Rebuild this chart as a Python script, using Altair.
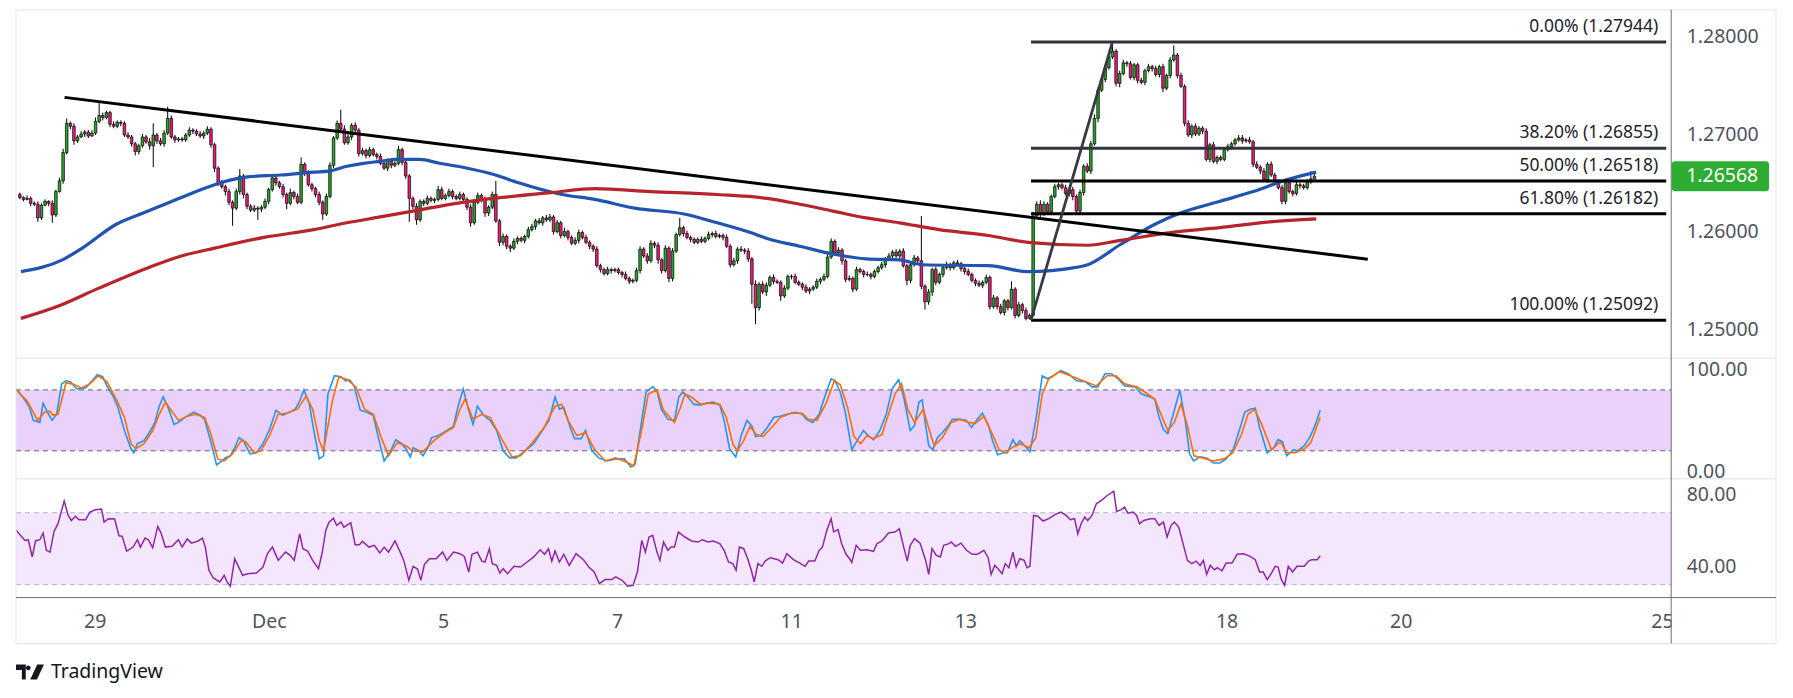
import altair as alt
import pandas as pd

# ---------------- DATA ----------------
# hourly candles, t = trading hours since Nov 28 02:00 (weekends skipped)
FIRST_OPEN = 1.2638
close_nov28 = [1.2635,1.2633,1.2634,1.2629,1.2628,1.2614,1.2627,1.2631,1.2629,1.2617,1.2641,1.2652,1.2681,1.2711,1.2708,1.2693,1.2697,1.2700,1.2702,1.2698,1.2701,1.2713]
close_nov29 = [1.2719,1.2717,1.2722,1.2710,1.2708,1.2712,1.2711,1.2699,1.2697,1.2690,1.2682,1.2688,1.2697,1.2692,1.2688,1.2699,1.2693,1.2690,1.2701,1.2716,1.2697,1.2694,1.2695,1.2694]
close_nov30 = [1.2699,1.2704,1.2703,1.2700,1.2698,1.2701,1.2705,1.2689,1.2665,1.2650,1.2646,1.2641,1.2630,1.2624,1.2641,1.2657,1.2638,1.2626,1.2622,1.2624,1.2623,1.2625,1.2631,1.2643]
close_dec01 = [1.2655,1.2650,1.2646,1.2638,1.2629,1.2640,1.2636,1.2630,1.2669,1.2660,1.2648,1.2644,1.2638,1.2630,1.2618,1.2636,1.2668,1.2696,1.2711,1.2705,1.2691,1.2697,1.2709,1.2704]
close_dec04 = [1.2680,1.2683,1.2678,1.2684,1.2679,1.2677,1.2670,1.2665,1.2672,1.2668,1.2670,1.2684,1.2671,1.2657,1.2634,1.2626,1.2612,1.2631,1.2629,1.2634,1.2632,1.2633,1.2643,1.2634]
close_dec05 = [1.2637,1.2641,1.2636,1.2634,1.2638,1.2633,1.2625,1.2609,1.2630,1.2637,1.2633,1.2619,1.2625,1.2638,1.2611,1.2589,1.2595,1.2585,1.2583,1.2590,1.2593,1.2591,1.2595,1.2602]
close_dec06 = [1.2605,1.2611,1.2609,1.2614,1.2612,1.2615,1.2600,1.2609,1.2596,1.2600,1.2594,1.2588,1.2591,1.2599,1.2594,1.2589,1.2585,1.2582,1.2565,1.2561,1.2557,1.2561,1.2560,1.2561]
close_dec07 = [1.2558,1.2556,1.2552,1.2549,1.2550,1.2560,1.2582,1.2575,1.2570,1.2588,1.2586,1.2571,1.2560,1.2583,1.2552,1.2580,1.2597,1.2604,1.2598,1.2594,1.2592,1.2589,1.2592,1.2590]
close_dec08 = [1.2593,1.2597,1.2598,1.2595,1.2596,1.2594,1.2585,1.2566,1.2570,1.2582,1.2581,1.2580,1.2572,1.2546,1.2522,1.2546,1.2538,1.2545,1.2553,1.2549,1.2548,1.2534,1.2542,1.2554]
close_dec11 = [1.2554,1.2548,1.2546,1.2543,1.2539,1.2541,1.2543,1.2549,1.2551,1.2554,1.2574,1.2590,1.2578,1.2581,1.2570,1.2551,1.2552,1.2541,1.2561,1.2559,1.2556,1.2556,1.2554,1.2559]
close_dec12 = [1.2563,1.2566,1.2572,1.2575,1.2579,1.2575,1.2580,1.2565,1.2550,1.2566,1.2573,1.2570,1.2544,1.2528,1.2538,1.2561,1.2548,1.2556,1.2563,1.2566,1.2563,1.2568,1.2567,1.2562]
close_dec13 = [1.2559,1.2556,1.2550,1.2547,1.2545,1.2548,1.2553,1.2523,1.2532,1.2523,1.2517,1.2529,1.2522,1.2541,1.2514,1.2525,1.2519,1.2511,1.2514,1.2616,1.2628,1.2618,1.2628,1.2620]
close_dec14 = [1.2636,1.2646,1.2648,1.2645,1.2639,1.2643,1.2636,1.2621,1.2640,1.2667,1.2662,1.2690,1.2716,1.2745,1.2756,1.2768,1.2779,1.2785,1.2752,1.2762,1.2773,1.2772,1.2758,1.2771]
close_dec15 = [1.2755,1.2753,1.2765,1.2769,1.2767,1.2761,1.2769,1.2747,1.2760,1.2776,1.2781,1.2760,1.2749,1.2711,1.2699,1.2708,1.2700,1.2706,1.2703,1.2674,1.2689,1.2672,1.2676,1.2674]
close_dec18 = [1.2684,1.2687,1.2690,1.2694,1.2696,1.2693,1.2694,1.2692,1.2669,1.2666,1.2662,1.2653,1.2669,1.2658,1.2652,1.2645,1.2631,1.2650,1.2641,1.2639,1.2648,1.2647,1.2645,1.2651]
close_dec19 = [1.2654,1.26568]

# wick lengths in pips beyond the candle body
up_nov28 = [2,1,3,2,2,3,2,2,1,3,2,3,4,5,2,3,2,3,2,2,3,4]
dn_nov28 = [2,2,1,3,2,4,2,1,3,8,2,1,3,2,3,4,2,1,3,2,1,2]
up_nov29 = [13,3,2,2,3,2,2,2,3,2,2,2,3,2,4,12,2,3,3,12,3,2,2,2]
dn_nov29 = [2,3,2,3,2,2,3,2,2,3,4,3,2,2,4,22,3,2,3,2,2,3,2,2]
up_nov30 = [2,3,2,2,3,2,3,2,2,2,3,2,3,2,3,7,2,2,2,3,2,2,3,2]
dn_nov30 = [2,2,3,2,2,3,2,3,4,3,2,4,3,18,2,3,4,3,2,2,11,3,2,3]
up_dec01 = [3,2,2,3,2,4,2,3,7,2,3,2,2,3,2,3,3,2,3,14,4,3,2,3]
dn_dec01 = [2,3,2,3,6,2,3,2,2,3,2,3,3,3,6,2,2,3,2,3,2,2,3,2]
up_dec04 = [2,3,2,3,2,2,3,2,3,2,2,4,2,3,2,2,3,2,2,3,2,2,4,3]
dn_dec04 = [3,2,3,2,2,3,2,2,3,3,2,2,3,3,24,3,5,2,3,2,2,3,2,2]
up_dec05 = [2,3,2,2,3,2,2,3,2,3,2,3,2,3,14,2,3,2,2,3,2,2,2,3]
dn_dec05 = [2,2,3,2,2,3,3,4,2,2,3,4,3,2,2,4,3,3,4,2,3,2,3,2]
up_dec06 = [3,2,3,2,3,3,2,3,2,4,2,2,3,3,2,3,2,2,3,2,2,3,2,2]
dn_dec06 = [2,3,2,3,2,2,3,2,3,2,3,2,2,3,2,2,3,3,2,3,2,2,3,2]
up_dec07 = [2,2,3,2,2,3,3,2,3,3,2,3,2,3,2,3,2,10,2,3,2,2,2,3]
dn_dec07 = [2,3,2,3,2,2,3,2,3,2,3,4,3,2,4,3,2,2,3,2,3,2,2,2]
up_dec08 = [2,3,2,3,2,2,3,2,3,2,3,2,3,2,4,2,3,3,2,3,2,2,3,2]
dn_dec08 = [2,2,3,2,2,3,2,3,2,3,2,3,3,20,17,3,2,4,2,3,2,5,2,2]
up_dec11 = [2,3,2,2,3,2,2,3,2,3,3,3,2,3,2,2,3,2,3,2,2,3,2,2]
dn_dec11 = [3,2,2,3,2,3,2,2,3,2,2,2,3,2,4,3,2,3,2,2,3,2,3,2]
up_dec12 = [2,3,2,3,2,3,2,3,2,2,3,2,46,2,3,2,3,2,2,3,2,2,3,2]
dn_dec12 = [2,2,3,2,3,2,3,2,5,3,2,3,3,8,3,4,3,2,3,2,3,2,2,3]
up_dec13 = [2,3,2,2,3,2,3,2,3,2,3,2,2,8,2,3,2,3,2,4,3,4,3,2]
dn_dec13 = [3,2,2,3,2,3,2,3,2,3,2,3,3,2,3,2,3,2,1,1,2,3,2,3]
up_dec14 = [2,3,2,2,3,2,3,2,3,2,3,3,4,3,3,3,3,9,2,3,3,2,3,2]
dn_dec14 = [2,2,3,2,2,3,4,3,2,3,2,3,2,4,2,3,2,2,3,4,2,3,2,3]
up_dec15 = [2,3,2,3,2,3,2,3,2,3,10,2,3,2,3,2,3,2,2,3,2,3,2,2]
dn_dec15 = [3,2,3,2,3,2,3,4,2,3,2,3,2,3,2,3,2,2,3,2,3,2,3,2]
up_dec18 = [2,3,2,2,3,3,2,3,2,3,2,3,2,3,2,2,3,2,3,2,3,2,2,3]
dn_dec18 = [2,2,3,2,2,3,2,2,3,2,3,2,3,2,3,2,3,3,2,3,2,3,2,2]
up_dec19 = [8,2]
dn_dec19 = [2,2]

# moving averages (t, price)
ma100_blue = [(0.3,1.2559),(11.8,1.2571),(17.3,1.2583),(26.5,1.2607),(35.6,1.2621),(44.8,1.2635),(54.0,1.2648),(58.6,1.2653),(63.2,1.2656),(72.3,1.2658),(81.5,1.2661),(85.6,1.2662),(90.7,1.2667),(95.3,1.2670),(99.9,1.2672),(104.4,1.2674),(110.9,1.2674),(116.4,1.2670),(122.8,1.2666),(131.9,1.2658),(138.3,1.2650),(150.3,1.2638),(159.4,1.2633),(170.5,1.2624),(184.2,1.2618),(193.4,1.2609),(202.6,1.2599),(207.2,1.2593),(216.3,1.2585),(225.5,1.2577),(234.7,1.2572),(243.9,1.2571),(250.3,1.2566),(268.6,1.2565),(279.6,1.2559),(292.5,1.2563),(296.1,1.2566),(305.3,1.2587),(314.5,1.2607),(321.8,1.2619),(332.8,1.2631),(342.0,1.2641),(351.2,1.2653),(359.5,1.2661)]
ma200_red = [(0.3,1.2511),(10.9,1.2524),(21.9,1.2542),(35.6,1.2563),(44.8,1.2575),(54.0,1.2583),(67.7,1.2594),(81.5,1.2602),(90.7,1.2609),(99.9,1.2615),(109.0,1.2621),(122.8,1.2630),(133.8,1.2635),(147.5,1.2640),(159.4,1.2644),(175.0,1.2641),(193.4,1.2638),(207.2,1.2634),(216.3,1.2628),(225.5,1.2621),(234.7,1.2614),(243.9,1.2609),(254.9,1.2602),(268.6,1.2596),(279.6,1.2589),(296.1,1.2586),(305.3,1.2591),(319.1,1.2599),(332.8,1.2604),(346.6,1.2610),(359.5,1.2613)]

# drawings
trend_t = [12.4, 373.8]
trend_p = [1.27376, 1.25717]
fib_pct = ["0.00%", "38.20%", "50.00%", "61.80%", "100.00%"]
fib_price = [1.27944, 1.26855, 1.26518, 1.26182, 1.25092]
fib_start_t = 280.4
fib_top_t = 303.0

# stochastic %K, %D (t, value)
stoch_k = [(0.4,81),(2.2,73),(4.0,63),(5.1,50),(6.9,48),(7.8,67),(9.3,56),(10.3,50),(11.5,56),(12.9,86),(14.1,89),(15.3,88),(17.1,81),(19.5,82),(21.3,89),(22.7,95),(24.2,93),(25.4,84),(27.2,73),(28.4,63),(30.2,40),(32.0,22),(32.8,18),(33.8,27),(35.6,30),(37.4,40),(38.6,48),(39.8,64),(40.9,73),(42.1,64),(43.9,46),(45.1,48),(46.9,53),(49.3,58),(51.1,55),(52.3,51),(54.1,28),(55.6,6),(57.1,10),(58.0,13),(59.4,15),(60.6,23),(61.8,33),(63.0,30),(64.8,17),(66.6,18),(68.4,27),(70.2,41),(72.0,60),(73.8,55),(75.6,58),(77.3,61),(78.5,69),(79.7,80),(81.2,66),(82.4,40),(83.9,12),(85.1,15),(86.3,76),(88.1,94),(89.9,93),(91.1,89),(92.3,90),(93.5,84),(95.2,60),(97.0,58),(98.8,55),(100.0,36),(101.8,10),(103.6,20),(105.0,31),(106.6,27),(107.8,22),(109.0,14),(109.8,23),(111.4,20),(112.5,15),(113.7,22),(114.9,33),(116.7,35),(119.1,40),(120.9,44),(122.1,63),(123.6,81),(125.1,60),(126.3,46),(127.5,64),(129.2,55),(131.0,50),(132.8,40),(134.6,20),(136.4,13),(138.2,13),(140.6,20),(143.0,27),(145.4,40),(147.2,50),(148.9,73),(150.1,61),(151.3,63),(153.1,43),(154.3,32),(156.1,32),(157.3,40),(159.1,20),(160.9,13),(163.3,10),(165.6,12),(168.0,12),(169.8,4),(171.0,7),(172.2,36),(174.0,78),(175.8,83),(177.0,79),(178.2,61),(180.0,51),(181.8,50),(183.0,73),(184.1,78),(185.3,74),(187.1,66),(188.9,65),(190.7,67),(192.5,68),(194.3,65),(195.5,50),(197.0,22),(198.7,14),(200.3,36),(201.8,50),(203.2,44),(204.2,34),(205.6,35),(207.4,43),(209.2,53),(211.0,54),(212.8,56),(215.2,58),(217.0,56),(218.2,51),(219.9,48),(221.7,56),(223.3,74),(225.0,91),(226.1,89),(227.5,78),(228.9,58),(230.7,21),(232.5,32),(233.9,40),(235.2,35),(236.7,31),(238.4,40),(240.2,56),(241.8,81),(243.6,90),(245.0,73),(246.8,40),(248.0,45),(249.2,68),(250.1,70),(251.0,46),(251.9,25),(253.0,21),(254.3,33),(255.7,38),(257.5,46),(258.4,51),(260.5,51),(262.3,50),(263.7,43),(265.3,51),(266.7,57),(268.3,46),(269.5,30),(270.9,16),(272.5,18),(273.6,18),(275.1,31),(276.0,25),(277.0,30),(278.4,25),(279.8,19),(281.4,50),(283.2,94),(284.6,91),(286.2,94),(288.3,99),(290.3,96),(292.7,89),(295.1,88),(296.9,83),(298.5,83),(300.5,96),(302.3,96),(304.1,91),(305.9,84),(308.8,83),(310.6,76),(313.0,73),(314.2,71),(315.4,53),(316.6,41),(317.8,37),(319.6,60),(321.1,80),(322.6,50),(323.8,17),(324.9,10),(326.7,14),(328.5,13),(330.4,8),(332.1,8),(333.9,12),(335.7,20),(337.5,40),(339.0,58),(340.5,61),(341.9,62),(343.1,43),(345.2,18),(347.0,23),(348.2,31),(349.4,29),(350.6,15),(352.4,21),(353.6,20),(355.4,25),(356.9,33),(358.4,45),(359.8,60)]
stoch_d = [(0.4,80),(3.4,69),(6.3,50),(8.1,58),(9.6,59),(10.5,55),(11.9,56),(14.1,87),(15.9,86),(18.3,82),(20.7,86),(23.0,94),(25.4,88),(28.2,69),(30.2,53),(32.0,27),(33.4,22),(35.6,27),(38.0,40),(39.8,56),(41.5,68),(43.1,60),(45.1,50),(47.5,54),(49.9,56),(52.3,53),(54.1,36),(55.9,12),(57.7,10),(60.0,17),(62.4,30),(63.6,29),(66.0,18),(67.8,20),(70.2,35),(72.6,56),(74.9,57),(77.9,61),(80.3,74),(82.1,61),(83.9,30),(85.1,20),(87.5,69),(89.3,93),(91.7,90),(94.0,83),(96.4,61),(98.8,56),(101.0,33),(103.0,15),(105.4,28),(107.8,25),(109.6,20),(112.5,19),(115.5,30),(118.5,38),(120.9,43),(122.7,61),(124.1,71),(126.3,51),(128.6,56),(131.0,53),(134.0,33),(137.0,14),(139.4,15),(142.4,27),(145.9,43),(148.9,64),(150.7,66),(152.5,50),(154.9,35),(157.3,38),(159.7,22),(162.7,10),(165.6,13),(168.6,9),(170.6,5),(172.8,41),(174.6,76),(177.0,80),(178.8,60),(181.8,48),(183.5,63),(184.7,76),(186.5,73),(188.9,66),(191.3,67),(194.3,66),(196.1,53),(197.9,27),(199.1,20),(200.9,30),(202.6,44),(204.4,36),(206.2,34),(208.6,43),(211.0,53),(214.0,57),(217.0,57),(218.7,51),(221.1,50),(223.5,66),(225.9,89),(227.5,85),(229.5,63),(231.3,34),(233.1,27),(234.9,35),(236.6,32),(239.0,36),(240.8,56),(242.6,76),(244.4,86),(246.2,60),(248.0,48),(250.4,61),(251.6,46),(253.4,25),(255.7,33),(258.1,48),(260.5,51),(262.9,48),(264.7,47),(267.1,54),(269.5,36),(271.3,21),(273.1,18),(274.8,23),(277.2,27),(279.6,23),(281.4,33),(283.2,76),(285.0,91),(288.0,98),(290.9,94),(294.5,89),(298.1,84),(301.1,94),(303.5,94),(305.9,86),(309.4,83),(311.8,77),(314.2,71),(316.6,50),(317.8,40),(319.6,48),(321.4,66),(323.2,45),(325.0,15),(327.3,13),(330.3,10),(333.3,12),(335.7,18),(338.1,36),(339.9,56),(341.7,61),(343.8,45),(346.4,21),(348.8,29),(350.6,18),(353.0,18),(355.4,22),(357.2,28),(359.8,53)]

# RSI (t, value)
rsi_14 = [(0.4,60.2),(1.6,57.4),(2.8,54.6),(3.7,55),(4.8,45.4),(5.7,54.3),(6.9,55),(7.8,58.7),(8.7,49.1),(9.7,48.1),(10.8,59.6),(11.9,63.9),(12.9,71.3),(13.6,76.5),(14.7,68.5),(15.6,65.7),(16.7,68),(17.7,66.1),(19.5,66.1),(20.7,70.4),(22.2,71.7),(23.9,72),(24.6,64.8),(25.8,66.7),(27.5,66.5),(28.7,57.2),(29.6,56.9),(30.8,48.7),(32.6,50.9),(33.8,55),(34.6,50.9),(35.9,55.9),(36.8,55),(38.0,50.6),(39.4,62.4),(40.3,58.7),(41.5,50.9),(43.3,51.3),(45.1,55),(46.1,50.9),(47.5,55.4),(48.7,53.1),(50.5,54.3),(51.7,55.9),(52.5,50.9),(53.5,38),(54.7,33.7),(56.5,31.5),(57.7,35.2),(58.5,31.5),(59.4,29.1),(60.6,44.4),(61.6,40.2),(62.8,35.2),(64.2,36.1),(66.6,36.5),(68.4,39.8),(69.6,47.2),(71.0,50.9),(72.6,43.5),(74.6,48.1),(75.9,46.3),(77.0,43.5),(78.5,58.3),(79.4,50),(80.7,48.7),(82.1,43.5),(83.7,38.9),(84.7,47.6),(85.7,60.2),(86.6,64.8),(87.8,67),(88.7,63),(89.9,64.8),(90.7,62),(92.6,64.4),(93.8,52.2),(95.0,52.2),(95.8,54.1),(97.6,50.9),(99.1,51.9),(100.6,47.6),(101.8,50.9),(103.0,48.1),(104.8,54.3),(106.0,49.1),(107.2,43.5),(108.6,32.4),(109.8,40.2),(111.0,38.7),(111.9,32.4),(112.9,41.3),(114.3,44.4),(116.1,44.4),(117.9,48.1),(119.1,43.5),(120.9,48.1),(122.7,47.2),(123.9,45.7),(125.1,37),(126.0,46.9),(127.5,48.1),(128.7,43.1),(129.6,42.6),(130.8,50),(131.6,41.7),(132.8,40.7),(133.7,36.5),(134.6,38.9),(135.8,36.1),(137.6,40.2),(139.4,39.8),(141.2,42.6),(143.0,45.4),(144.8,49.4),(146.0,46.9),(147.1,50),(148.0,43.1),(148.9,48.7),(150.1,42.6),(151.3,46.9),(152.8,40.7),(154.7,47.2),(156.7,43.9),(158.2,39.8),(159.7,37),(161.1,30.6),(162.7,32.8),(164.5,32.8),(165.6,34.3),(167.4,32.4),(168.9,29.1),(170.4,29.6),(171.6,37),(172.8,54.6),(173.8,48.1),(174.8,56.5),(175.8,57.4),(177.0,48.1),(177.8,43.5),(178.8,53.7),(180.0,49.1),(180.9,50.9),(181.8,50.9),(182.9,59.3),(184.7,56.5),(186.5,54.3),(188.3,53.7),(189.5,55),(191.1,53.7),(192.5,54.3),(194.3,52.8),(195.5,49.1),(196.7,42.6),(197.9,41.7),(198.8,38),(199.7,50.9),(200.9,50),(202.0,44.4),(203.0,38),(203.8,31.5),(204.8,41.7),(205.9,40.2),(206.8,43.1),(208.2,45),(210.4,43.9),(211.6,42),(212.8,47.2),(214.6,43.9),(216.4,42),(217.8,40.2),(218.8,43.1),(220.5,43.1),(221.7,49.1),(222.6,50.9),(223.8,60.2),(225.0,66.7),(225.7,59.3),(226.9,60.6),(227.9,52.8),(229.1,46.9),(230.1,44.4),(230.7,42.4),(231.9,51.9),(233.1,49.1),(234.9,49.4),(236.7,48.5),(237.6,52.8),(239.0,54.3),(240.8,58.7),(242.6,59.3),(243.8,61.1),(245.0,50.9),(246.0,43.1),(246.8,51.9),(248.0,55.6),(249.5,53.1),(251.0,43.9),(251.9,35.7),(252.8,50),(254.0,46.3),(255.1,45.4),(256.0,51.9),(257.5,52.8),(258.1,53.7),(259.3,51.3),(260.8,53.1),(262.3,49.1),(263.9,46.9),(265.3,46.9),(267.1,49.1),(268.3,45),(269.1,35.7),(270.1,40.7),(271.0,38.9),(272.1,36.1),(273.0,41.7),(274.0,39.4),(275.1,48.1),(276.0,39.8),(277.0,44.4),(278.2,43.5),(279.0,39.4),(279.8,40.2),(280.8,68.5),(282.0,68.1),(283.4,65.4),(285.0,66.7),(286.8,69.1),(288.3,70.4),(289.8,68.5),(290.9,66.1),(292.1,66.7),(293.0,58.3),(293.9,63.9),(294.9,67.6),(295.7,65.7),(296.9,68.5),(298.1,75),(299.7,77.2),(301.1,79.6),(302.9,82),(303.7,70.7),(304.9,71.7),(305.9,73.1),(306.8,69.8),(308.2,70.4),(309.2,68.5),(310.0,63.9),(311.2,65.7),(313.0,66.7),(314.2,66.7),(315.4,63),(316.6,64.8),(317.6,56.5),(318.7,63),(319.6,64.8),(320.8,62),(322.0,52.8),(323.2,43.5),(324.4,41.7),(325.6,43.1),(326.7,40.7),(327.6,43.5),(328.5,35.7),(329.5,40.7),(330.7,38.3),(331.5,39.4),(332.7,37.6),(333.9,42),(335.5,42),(336.9,46.9),(338.7,47.2),(340.5,45.7),(341.9,43.9),(343.1,37),(344.1,37),(345.2,32.8),(346.4,36.5),(347.4,40.2),(348.2,39.8),(349.1,32.8),(350.0,29.6),(351.0,40.2),(352.2,37),(353.4,40.2),(355.4,40.2),(356.6,43.1),(357.5,43.9),(359.0,43.9),(359.8,46.1)]

# time axis
tick_t = [22, 70, 118, 166, 214, 262, 334, 382, 454]
tick_lab = ["29", "Dec", "5", "7", "11", "13", "18", "20", "25"]

# ---------------- STYLE / LAYOUT ----------------
W = 1658
H_PRICE, H_STOCH, H_RSI = 349, 121, 119
X_DOM = [0.316, 456.55]
FONT = "Noto Sans"
AX_COL = "#50535e"
GREEN, PINK = "#2ba42b", "#ef1a7c"
LIGHT = "#e0e3eb"
DARK = "#6a6d78"

closes = (close_nov28 + close_nov29 + close_nov30 + close_dec01 + close_dec04 + close_dec05 +
          close_dec06 + close_dec07 + close_dec08 + close_dec11 + close_dec12 + close_dec13 +
          close_dec14 + close_dec15 + close_dec18 + close_dec19)
wick_up = (up_nov28 + up_nov29 + up_nov30 + up_dec01 + up_dec04 + up_dec05 + up_dec06 + up_dec07 +
           up_dec08 + up_dec11 + up_dec12 + up_dec13 + up_dec14 + up_dec15 + up_dec18 + up_dec19)
wick_dn = (dn_nov28 + dn_nov29 + dn_nov30 + dn_dec01 + dn_dec04 + dn_dec05 + dn_dec06 + dn_dec07 +
           dn_dec08 + dn_dec11 + dn_dec12 + dn_dec13 + dn_dec14 + dn_dec15 + dn_dec18 + dn_dec19)

opens = [FIRST_OPEN] + closes[:-1]
rows = []
for i, (o, c) in enumerate(zip(opens, closes)):
    u = wick_up[i] if i < len(wick_up) else 2
    d = wick_dn[i] if i < len(wick_dn) else 2
    rows.append({"t": i, "open": o, "close": c,
                 "high": max(o, c) + u / 10000.0, "low": min(o, c) - d / 10000.0})
cdf = pd.DataFrame(rows)

xs = alt.Scale(domain=X_DOM, nice=False, zero=False)
ps = alt.Scale(domain=[1.24704, 1.28276], nice=False, zero=False)
ss = alt.Scale(domain=[-7.6, 111.5], nice=False, zero=False)
rs = alt.Scale(domain=[22.8, 88.9], nice=False, zero=False)


def yaxis(vals, fmt):
    return alt.Axis(orient="right", values=vals, format=fmt, domain=False, ticks=False, tickSize=0,
                    grid=False, labelPadding=15, labelFontSize=19.5, labelColor=AX_COL, labelFont=FONT,
                    title=None)


P_AX = yaxis([1.25, 1.26, 1.27, 1.28], ".5f")
S_AX = yaxis([0, 100], ".2f")
R_AX = yaxis([40, 80], ".2f")

expr = "''"
for tv, lab in reversed(list(zip(tick_t, tick_lab))):
    expr = f"datum.value == {tv} ? '{lab}' : ({expr})"
X_AX = alt.Axis(values=tick_t, labelExpr=expr, domain=False, ticks=False, tickSize=0, grid=False,
                labelPadding=24, labelBaseline="middle", labelFontSize=19.5, labelColor=AX_COL,
                labelFont=FONT, labelFlush=False, labelOverlap=False, title=None)


def pairs_df(p):
    return pd.DataFrame({"t": [a for a, b in p], "v": [b for a, b in p]})


def PX(field="t"):
    return alt.X(f"{field}:Q", scale=xs, axis=None)


def PY(field):
    return alt.Y(f"{field}:Q", scale=ps, axis=P_AX)


# ---- price panel ----
wicks = alt.Chart(cdf).mark_rule(color="#000000", strokeWidth=1).encode(
    x=PX(), y=PY("low"), y2="high:Q")
bodies = alt.Chart(cdf).mark_bar(size=2.6, stroke="#000000", strokeWidth=0.7).encode(
    x=PX(), y=PY("open"), y2="close:Q",
    color=alt.condition("datum.close >= datum.open", alt.value(GREEN), alt.value(PINK)))
blue = alt.Chart(pairs_df(ma100_blue)).mark_line(color="#1f54b0", strokeWidth=3.2, interpolate="monotone", clip=True).encode(
    x=PX(), y=PY("v"))
red = alt.Chart(pairs_df(ma200_red)).mark_line(color="#b5252b", strokeWidth=3.2, interpolate="monotone", clip=True).encode(
    x=PX(), y=PY("v"))
trend = alt.Chart(pd.DataFrame({"t": trend_t, "v": trend_p})).mark_line(color="#000000", strokeWidth=3, clip=True).encode(
    x=PX(), y=PY("v"))

fdf = pd.DataFrame({"x1": [fib_start_t] * len(fib_price), "x2": [X_DOM[1]] * len(fib_price),
                    "p": fib_price, "idx": list(range(len(fib_price))),
                    "label": [f"{a} ({b:.5f})" for a, b in zip(fib_pct, fib_price)]})
fib_lines = alt.Chart(fdf).mark_rule(strokeWidth=3).encode(
    x=PX("x1"), x2="x2:Q", y=PY("p"),
    color=alt.condition("datum.idx < 2", alt.value("#2f333e"), alt.value("#000000")))
fib_diag = alt.Chart(pd.DataFrame({"t": [fib_start_t, fib_top_t], "v": [fib_price[-1], fib_price[0]]})).mark_line(
    color="#363a45", strokeWidth=2.8).encode(x=PX(), y=PY("v"))
fib_text = alt.Chart(fdf).mark_text(align="right", baseline="middle", dy=-15, fontSize=17.5, font=FONT,
                                    color="#1e222d").encode(
    x=alt.value(W - 13), y=PY("p"), text="label:N")

last = closes[-1]
tag_df = pd.DataFrame({"p": [last], "hi": [last + 0.00154], "lo": [last - 0.00154], "txt": [f"{last:.5f}"]})
tag_rect = alt.Chart(tag_df).mark_rect(color="#2fad33", cornerRadius=3, clip=False).encode(
    x=alt.value(W + 0.5), x2=alt.value(W + 98), y=PY("hi"), y2="lo:Q")
tag_text = alt.Chart(tag_df).mark_text(align="left", baseline="middle", color="white", fontSize=19.5,
                                       font=FONT).encode(
    x=alt.value(W + 15), y=PY("p"), text="txt:N")

price = alt.layer(wicks, bodies, blue, red, trend, fib_lines, fib_diag, fib_text, tag_rect, tag_text).properties(
    width=W, height=H_PRICE)

# ---- stochastic panel ----
sband = alt.Chart(pd.DataFrame({"x1": [X_DOM[0]], "x2": [X_DOM[1]], "hi": [80], "lo": [20]})).mark_rect(
    color="#ead1fc").encode(x=PX("x1"), x2="x2:Q",
                            y=alt.Y("hi:Q", scale=ss, axis=S_AX), y2="lo:Q")
slines = alt.Chart(pd.DataFrame({"x1": [X_DOM[0]] * 2, "x2": [X_DOM[1]] * 2, "v": [80, 20]})).mark_rule(
    color="#5d606b", strokeDash=[5, 4], strokeWidth=1).encode(
    x=PX("x1"), x2="x2:Q", y=alt.Y("v:Q", scale=ss, axis=S_AX))
kline = alt.Chart(pairs_df(stoch_k)).mark_line(color="#2196f3", strokeWidth=1.6, clip=True).encode(
    x=PX(), y=alt.Y("v:Q", scale=ss, axis=S_AX))
dline = alt.Chart(pairs_df(stoch_d)).mark_line(color="#ff6d00", strokeWidth=1.6, clip=True).encode(
    x=PX(), y=alt.Y("v:Q", scale=ss, axis=S_AX))
stoch = alt.layer(sband, slines, kline, dline).properties(width=W, height=H_STOCH)

# ---- RSI panel ----
RX = lambda f="t": alt.X(f"{f}:Q", scale=xs, axis=X_AX)
rband = alt.Chart(pd.DataFrame({"x1": [X_DOM[0]], "x2": [X_DOM[1]], "hi": [70], "lo": [30]})).mark_rect(
    color="#f3e6fd").encode(x=RX("x1"), x2="x2:Q",
                            y=alt.Y("hi:Q", scale=rs, axis=R_AX), y2="lo:Q")
rlines = alt.Chart(pd.DataFrame({"x1": [X_DOM[0]] * 2, "x2": [X_DOM[1]] * 2, "v": [70, 30]})).mark_rule(
    color="#b2b5be", strokeDash=[5, 4], strokeWidth=1).encode(
    x=RX("x1"), x2="x2:Q", y=alt.Y("v:Q", scale=rs, axis=R_AX))
rline = alt.Chart(pairs_df(rsi_14)).mark_line(color="#9027a8", strokeWidth=1.5, clip=True).encode(
    x=RX(), y=alt.Y("v:Q", scale=rs, axis=R_AX))

dummy = pd.DataFrame({"d": [0]})


def hline(x1, x2, y, color):
    return alt.Chart(dummy).mark_rule(color=color, strokeWidth=1, clip=False).encode(
        x=alt.value(x1), x2=alt.value(x2), y=alt.value(y))


def vline(x, y1, y2, color):
    return alt.Chart(dummy).mark_rule(color=color, strokeWidth=1, clip=False).encode(
        x=alt.value(x), y=alt.value(y1), y2=alt.value(y2))


TOP = -(H_PRICE + H_STOCH)
RIGHT = 1763
BOTTOM = 165
cover = alt.Chart(dummy).mark_rect(color="white", clip=False).encode(
    x=alt.value(W + 0.5), x2=alt.value(W + 40), y=alt.value(H_RSI + 1), y2=alt.value(BOTTOM - 1))
TV_PATH = ("M-1,-0.54H-0.3V0.54H-0.58V-0.14H-1Z "
           "M-0.29,-0.3A0.17,0.17 0 1,0 0.05,-0.3A0.17,0.17 0 1,0 -0.29,-0.3Z "
           "M0.52,-0.54H1L0.5,0.54H0.02Z")
logo_icon = alt.Chart(dummy).mark_point(shape=TV_PATH, filled=True, color="#131722", size=784,
                                        opacity=1, strokeWidth=0, clip=False).encode(
    x=alt.value(14), y=alt.value(193.5))
logo_text = alt.Chart(dummy).mark_text(align="left", baseline="middle", fontSize=19.5, font=FONT,
                                       color="#131722", clip=False).encode(
    x=alt.value(35), y=alt.value(194), text=alt.value("TradingView"))

deco = [
    cover,
    hline(0, RIGHT, TOP + 0.5, LIGHT),
    hline(0, RIGHT, -H_STOCH, LIGHT),
    hline(0, RIGHT, 0, LIGHT),
    hline(0, RIGHT, BOTTOM, LIGHT),
    vline(0, TOP, BOTTOM, LIGHT),
    vline(RIGHT, TOP, BOTTOM, LIGHT),
    hline(0, RIGHT, H_RSI, DARK),
    vline(W, TOP, BOTTOM, DARK),
    logo_icon,
    logo_text,
]
rsi = alt.layer(rband, rlines, rline, *deco).properties(width=W, height=H_RSI)

chart = alt.vconcat(price, stoch, rsi, spacing=0, bounds="flush").properties(
    padding={"left": 7, "top": 0, "right": 8, "bottom": 10}, background="white"
).configure_view(strokeWidth=0)

chart.save("out.html", embed_options={"renderer": "svg", "actions": False})
